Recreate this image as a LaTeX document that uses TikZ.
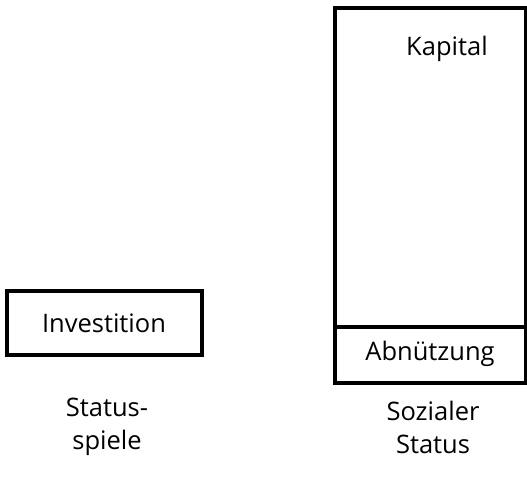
\documentclass[tikz,border=0pt]{standalone}
\usepackage{fontspec}
\setmainfont{Open Sans}
\begin{document}
\begin{tikzpicture}[x=1pt,y=-1pt,
  box/.style={draw=black,line width=4pt},
  lbl/.style={font=\fontsize{25.5}{33}\selectfont,inner sep=0pt,align=center}]
\useasboundingbox (0,0) rectangle (527,481);
\draw[box] (6.5,290.5) rectangle (202,355);
\draw[box] (335,8.5) rectangle (525.5,382.5);
\coordinate (dl) at (335,327);
\coordinate (dr) at (525.5,327);
\draw[box] (dl) -- (dr);
\node[lbl] (inv) at (104,323) {Investition};
\node[lbl] (kap) at (447,49) {Kapital};
\node[lbl] (abn) at (430,354) {Abnützung};
\node[lbl] (ss) at (107,427) {Status-\\spiele};
\node[lbl] (soz) at (433,427) {Sozialer\\Status};
\end{tikzpicture}
\end{document}
